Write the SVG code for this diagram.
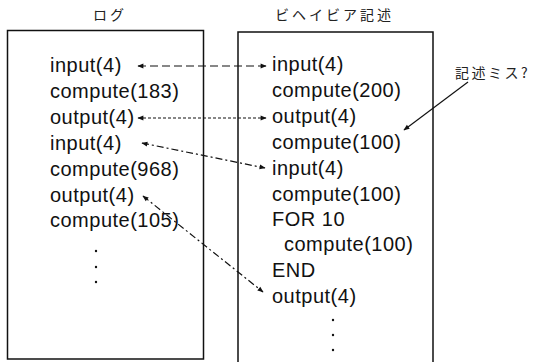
<svg xmlns="http://www.w3.org/2000/svg" width="533" height="362" viewBox="0 0 533 362">
<style>
.box{fill:none;stroke:#111;stroke-width:1.5}
.code{font-family:"Liberation Sans",Arial,sans-serif;font-size:20px;letter-spacing:0.5px;fill:#111}
.jp{font-family:"Noto Sans CJK JP",sans-serif;font-size:14px;letter-spacing:3px;fill:#222}
.dot{fill:#111}
.conn{fill:none;stroke:#111;stroke-width:1.2}
</style>
<defs>
<marker id="ah" viewBox="0 0 10 10" refX="9" refY="5" markerWidth="7" markerHeight="6" markerUnits="userSpaceOnUse" orient="auto-start-reverse">
<path d="M0,1 L10,5 L0,9 Z" fill="#111"/>
</marker>
</defs>
<g id="log">
<text class="jp" x="93" y="20">ログ</text>
<rect class="box" x="7.5" y="30.5" width="196" height="328.5"/>
<text class="code" x="50" y="72">input(4)</text>
<text class="code" x="50" y="98">compute(183)</text>
<text class="code" x="50" y="124">output(4)</text>
<text class="code" x="50" y="150">input(4)</text>
<text class="code" x="50" y="176">compute(968)</text>
<text class="code" x="50" y="202">output(4)</text>
<text class="code" x="50" y="227">compute(105)</text>
<circle class="dot" cx="96" cy="251" r="1.2"/>
<circle class="dot" cx="96" cy="267" r="1.2"/>
<circle class="dot" cx="96" cy="282" r="1.2"/>
</g>
<g id="behavior">
<text class="jp" x="275" y="20">ビヘイビア記述</text>
<path class="box" d="M238,370 V32 H433 V370"/>
<text class="code" x="272" y="71">input(4)</text>
<text class="code" x="272" y="97">compute(200)</text>
<text class="code" x="272" y="123">output(4)</text>
<text class="code" x="272" y="149">compute(100)</text>
<text class="code" x="272" y="175">input(4)</text>
<text class="code" x="272" y="201">compute(100)</text>
<text class="code" x="272" y="226">FOR 10</text>
<text class="code" x="284" y="251">compute(100)</text>
<text class="code" x="272" y="277">END</text>
<text class="code" x="272" y="303">output(4)</text>
<circle class="dot" cx="333" cy="320" r="1.2"/>
<circle class="dot" cx="333" cy="335" r="1.2"/>
<circle class="dot" cx="333" cy="350" r="1.2"/>
</g>
<g id="note">
<text class="jp" x="455" y="78" style="letter-spacing:2.5px">記述ミス?</text>
</g>
<g id="connectors">
<line class="conn" x1="138" y1="66" x2="266" y2="66" stroke-dasharray="8,4" marker-start="url(#ah)" marker-end="url(#ah)"/>
<line class="conn" x1="138" y1="118" x2="266" y2="118" stroke-dasharray="3,2" marker-start="url(#ah)" marker-end="url(#ah)"/>
<line class="conn" x1="142" y1="143" x2="265" y2="168" stroke-dasharray="7,3,2,3" marker-start="url(#ah)" marker-end="url(#ah)"/>
<line class="conn" x1="143" y1="196" x2="263" y2="292" stroke-dasharray="7,3,2,3" marker-start="url(#ah)" marker-end="url(#ah)"/>
<line class="conn" x1="468" y1="82" x2="404" y2="130" marker-end="url(#ah)"/>
</g>
</svg>
